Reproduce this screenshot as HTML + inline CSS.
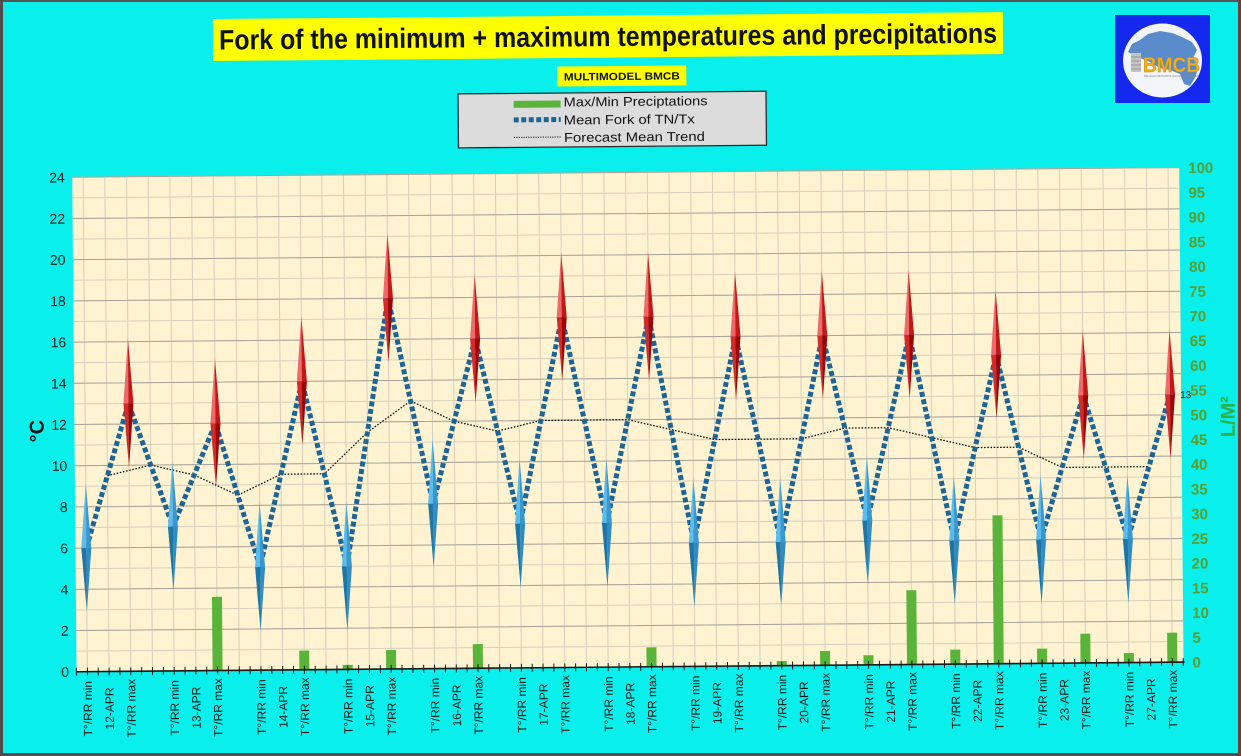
<!DOCTYPE html>
<html><head><meta charset="utf-8"><style>
html,body{margin:0;padding:0;background:#08efec;}
svg{display:block;}
</style></head><body>
<svg width="1241" height="756" viewBox="0 0 1241 756" xmlns="http://www.w3.org/2000/svg" font-family="Liberation Sans, Arial, sans-serif">
<defs>
<g id="rd">
<path d="M0 -65L-5 0L0 0Z" fill="#ee6a6a"/>
<path d="M0 -65L5 0L0 0Z" fill="#c41818"/>
<path d="M-5 0L0 64L0 0Z" fill="#d42a2a"/>
<path d="M5 0L0 64L0 0Z" fill="#9a0404"/>
</g>
<g id="bd">
<path d="M0 -65L-5 0L0 0Z" fill="#5cbcec"/>
<path d="M0 -65L5 0L0 0Z" fill="#3898d2"/>
<path d="M-5 0L0 64L0 0Z" fill="#1f76a4"/>
<path d="M5 0L0 64L0 0Z" fill="#2f8cc4"/>
</g>
</defs>
<rect width="1241" height="756" fill="#08efec"/>

<g transform="rotate(-0.5 620 378)">
<!-- Title -->
<rect x="216" y="15.5" width="790" height="42" fill="#ffff00"/>
<text x="611" y="46" text-anchor="middle" font-size="28" font-weight="bold" fill="#111" textLength="778" lengthAdjust="spacingAndGlyphs">Fork of the minimum + maximum temperatures and precipitations</text>
<rect x="560" y="66" width="129" height="20" fill="#ffff00"/>
<text x="624.5" y="80" text-anchor="middle" font-size="10.5" font-weight="bold" fill="#111" textLength="116" lengthAdjust="spacingAndGlyphs">MULTIMODEL BMCB</text>

<!-- Legend -->
<rect x="460.5" y="92.5" width="308" height="54" fill="#dcdcdc" stroke="#2b2b2b" stroke-width="1.3"/>
<rect x="516" y="100" width="47" height="7" fill="#5ab43a"/>
<line x1="516" y1="119" x2="563" y2="119" stroke="#1d6596" stroke-width="5" stroke-dasharray="5 2.5"/>
<line x1="516" y1="136.5" x2="563" y2="136.5" stroke="#111" stroke-width="1" stroke-dasharray="1.2 1.2"/>
<g font-size="13" fill="#111">
<text x="566" y="106" textLength="144" lengthAdjust="spacingAndGlyphs">Max/Min Preciptations</text>
<text x="566" y="124" textLength="131" lengthAdjust="spacingAndGlyphs">Mean Fork of TN/Tx</text>
<text x="566" y="141.5" textLength="141" lengthAdjust="spacingAndGlyphs">Forecast Mean Trend</text>
</g>

<!-- Plot area -->
<rect x="74" y="172.5" width="1107" height="494.5" fill="#fff3d2"/>
<line x1="84.35" y1="419.75" x2="1171" y2="419.75" stroke="#d8cfbc" stroke-width="494.5" stroke-dasharray="1 20.7"/>
<line x1="627.5" y1="172" x2="627.5" y2="667.6" stroke="#d8cfbc" stroke-width="1107" stroke-dasharray="1 19.604"/>
<line x1="627.5" y1="172" x2="627.5" y2="667.6" stroke="#a9a49b" stroke-width="1107" stroke-dasharray="1 40.208"/>

<!-- Precip bars -->
<g fill="#5ab43a">
<rect x="210.05" y="593.3" width="10" height="73.7"/>
<rect x="296.85" y="647.8" width="10" height="19.2"/>
<rect x="340.25" y="662.5" width="10" height="4.5"/>
<rect x="383.65" y="648" width="10" height="19"/>
<rect x="470.45" y="642.8" width="10" height="24.2"/>
<rect x="644.05" y="647.6" width="10" height="19.4"/>
<rect x="774.25" y="662.5" width="10" height="4.5"/>
<rect x="817.65" y="652.7" width="10" height="14.3"/>
<rect x="861.05" y="657.4" width="10" height="9.6"/>
<rect x="904.45" y="592.8" width="10" height="74.2"/>
<rect x="947.85" y="652.5" width="10" height="14.5"/>
<rect x="991.25" y="518.6" width="10" height="148.4"/>
<rect x="1034.65" y="652.3" width="10" height="14.7"/>
<rect x="1078.05" y="637.7" width="10" height="29.3"/>
<rect x="1121.45" y="657.5" width="10" height="9.5"/>
<rect x="1164.85" y="637.5" width="10" height="29.5"/>
</g>

<!-- Trend -->
<polyline fill="none" stroke="#111" stroke-width="1.3" stroke-dasharray="1.6 1.6" points="106.55,471.26 149.95,460.96 193.35,471.26 236.75,491.87 280.15,471.26 323.55,471.26 366.95,430.05 410.35,399.15 453.75,419.75 497.15,430.05 540.55,419.75 583.95,419.75 627.35,419.75 670.75,430.05 714.15,440.36 757.55,440.36 800.95,440.36 844.35,430.05 887.75,430.05 931.15,440.36 974.55,450.66 1017.95,450.66 1061.35,471.26 1104.75,471.26 1148.15,471.26"/>

<!-- Mean fork -->
<polyline fill="none" stroke="#1d6596" stroke-width="5" stroke-dasharray="5 2.6" stroke-linejoin="miter" points="84.85,543.38 128.25,399.15 171.65,522.77 215.05,419.75 258.45,563.98 301.85,378.54 345.25,563.98 388.65,296.13 432.05,502.17 475.45,337.34 518.85,522.77 562.25,316.73 605.65,522.77 649.05,316.73 692.45,543.38 735.85,337.34 779.25,543.38 822.65,337.34 866.05,522.77 909.45,337.34 952.85,543.38 996.25,357.94 1039.65,543.38 1083.05,399.15 1126.45,543.38 1169.85,399.15"/>

<!-- Diamonds min -->
<use href="#bd" x="84.85" y="543.38"/>
<use href="#bd" x="171.65" y="522.77"/>
<use href="#bd" x="258.45" y="563.98"/>
<use href="#bd" x="345.25" y="563.98"/>
<use href="#bd" x="432.05" y="502.17"/>
<use href="#bd" x="518.85" y="522.77"/>
<use href="#bd" x="605.65" y="522.77"/>
<use href="#bd" x="692.45" y="543.38"/>
<use href="#bd" x="779.25" y="543.38"/>
<use href="#bd" x="866.05" y="522.77"/>
<use href="#bd" x="952.85" y="543.38"/>
<use href="#bd" x="1039.65" y="543.38"/>
<use href="#bd" x="1126.45" y="543.38"/>
<!-- Diamonds max -->
<use href="#rd" x="128.25" y="399.15"/>
<use href="#rd" x="215.05" y="419.75"/>
<use href="#rd" x="301.85" y="378.54"/>
<use href="#rd" x="388.65" y="296.13"/>
<use href="#rd" x="475.45" y="337.34"/>
<use href="#rd" x="562.25" y="316.73"/>
<use href="#rd" x="649.05" y="316.73"/>
<use href="#rd" x="735.85" y="337.34"/>
<use href="#rd" x="822.65" y="337.34"/>
<use href="#rd" x="909.45" y="337.34"/>
<use href="#rd" x="996.25" y="357.94"/>
<use href="#rd" x="1083.05" y="399.15"/>
<use href="#rd" x="1169.85" y="399.15"/>

<text x="1180" y="403" font-size="10" fill="#111">13</text>

<!-- X axis -->
<line x1="73.5" y1="667" x2="1182" y2="667" stroke="#1a1a1a" stroke-width="1.6"/>
<line x1="73.5" y1="667" x2="1182" y2="667" stroke="#1a1a1a" stroke-width="8" stroke-dasharray="1 9.85"/>

<!-- Left axis labels -->
<g font-size="14" fill="#1a1a1a" text-anchor="end">
<text x="66.5" y="672">0</text>
<text x="66.5" y="630.79">2</text>
<text x="66.5" y="589.58">4</text>
<text x="66.5" y="548.38">6</text>
<text x="66.5" y="507.17">8</text>
<text x="66.5" y="465.96">10</text>
<text x="66.5" y="424.75">12</text>
<text x="66.5" y="383.54">14</text>
<text x="66.5" y="342.34">16</text>
<text x="66.5" y="301.13">18</text>
<text x="66.5" y="259.92">20</text>
<text x="66.5" y="218.71">22</text>
<text x="66.5" y="177.5">24</text>
</g>
<text transform="translate(36 426) rotate(-90)" text-anchor="middle" dy="0.36em" font-size="20" font-weight="bold" fill="#111">°C</text>

<!-- Right axis labels -->
<g font-size="15" font-weight="bold" fill="#5a9e2e">
<text x="1190" y="672.5">0</text>
<text x="1190" y="647.78">5</text>
<text x="1190" y="623.05">10</text>
<text x="1190" y="598.33">15</text>
<text x="1190" y="573.6">20</text>
<text x="1190" y="548.88">25</text>
<text x="1190" y="524.15">30</text>
<text x="1190" y="499.43">35</text>
<text x="1190" y="474.7">40</text>
<text x="1190" y="449.98">45</text>
<text x="1190" y="425.25">50</text>
<text x="1190" y="400.53">55</text>
<text x="1190" y="375.8">60</text>
<text x="1190" y="351.08">65</text>
<text x="1190" y="326.35">70</text>
<text x="1190" y="301.63">75</text>
<text x="1190" y="276.9">80</text>
<text x="1190" y="252.18">85</text>
<text x="1190" y="227.45">90</text>
<text x="1190" y="202.73">95</text>
<text x="1190" y="178">100</text>
</g>
<text transform="translate(1227 422) rotate(-90)" text-anchor="middle" dy="0.36em" font-size="20" font-weight="bold" fill="#2cb04a">L/M²</text>

<!-- Category labels -->
<g font-size="12" fill="#1a1a1a" text-anchor="middle">
<text transform="translate(84.85 704) rotate(-90)" dy="0.36em">T°/RR min</text>
<text transform="translate(106.55 704) rotate(-90)" dy="0.36em">12-APR</text>
<text transform="translate(128.25 704) rotate(-90)" dy="0.36em">T°/RR max</text>
<text transform="translate(171.65 704) rotate(-90)" dy="0.36em">T°/RR min</text>
<text transform="translate(193.35 704) rotate(-90)" dy="0.36em">13-APR</text>
<text transform="translate(215.05 704) rotate(-90)" dy="0.36em">T°/RR max</text>
<text transform="translate(258.45 704) rotate(-90)" dy="0.36em">T°/RR min</text>
<text transform="translate(280.15 704) rotate(-90)" dy="0.36em">14-APR</text>
<text transform="translate(301.85 704) rotate(-90)" dy="0.36em">T°/RR max</text>
<text transform="translate(345.25 704) rotate(-90)" dy="0.36em">T°/RR min</text>
<text transform="translate(366.95 704) rotate(-90)" dy="0.36em">15-APR</text>
<text transform="translate(388.65 704) rotate(-90)" dy="0.36em">T°/RR max</text>
<text transform="translate(432.05 704) rotate(-90)" dy="0.36em">T°/RR min</text>
<text transform="translate(453.75 704) rotate(-90)" dy="0.36em">16-APR</text>
<text transform="translate(475.45 704) rotate(-90)" dy="0.36em">T°/RR max</text>
<text transform="translate(518.85 704) rotate(-90)" dy="0.36em">T°/RR min</text>
<text transform="translate(540.55 704) rotate(-90)" dy="0.36em">17-APR</text>
<text transform="translate(562.25 704) rotate(-90)" dy="0.36em">T°/RR max</text>
<text transform="translate(605.65 704) rotate(-90)" dy="0.36em">T°/RR min</text>
<text transform="translate(627.35 704) rotate(-90)" dy="0.36em">18-APR</text>
<text transform="translate(649.05 704) rotate(-90)" dy="0.36em">T°/RR max</text>
<text transform="translate(692.45 704) rotate(-90)" dy="0.36em">T°/RR min</text>
<text transform="translate(714.15 704) rotate(-90)" dy="0.36em">19-APR</text>
<text transform="translate(735.85 704) rotate(-90)" dy="0.36em">T°/RR max</text>
<text transform="translate(779.25 704) rotate(-90)" dy="0.36em">T°/RR min</text>
<text transform="translate(800.95 704) rotate(-90)" dy="0.36em">20-APR</text>
<text transform="translate(822.65 704) rotate(-90)" dy="0.36em">T°/RR max</text>
<text transform="translate(866.05 704) rotate(-90)" dy="0.36em">T°/RR min</text>
<text transform="translate(887.75 704) rotate(-90)" dy="0.36em">21-APR</text>
<text transform="translate(909.45 704) rotate(-90)" dy="0.36em">T°/RR max</text>
<text transform="translate(952.85 704) rotate(-90)" dy="0.36em">T°/RR min</text>
<text transform="translate(974.55 704) rotate(-90)" dy="0.36em">22-APR</text>
<text transform="translate(996.25 704) rotate(-90)" dy="0.36em">T°/RR max</text>
<text transform="translate(1039.65 704) rotate(-90)" dy="0.36em">T°/RR min</text>
<text transform="translate(1061.35 704) rotate(-90)" dy="0.36em">23-APR</text>
<text transform="translate(1083.05 704) rotate(-90)" dy="0.36em">T°/RR max</text>
<text transform="translate(1126.45 704) rotate(-90)" dy="0.36em">T°/RR min</text>
<text transform="translate(1148.15 704) rotate(-90)" dy="0.36em">27-APR</text>
<text transform="translate(1169.85 704) rotate(-90)" dy="0.36em">T°/RR max</text>
</g>
</g>

<!-- Logo -->
<rect x="1115" y="15" width="95" height="88" fill="#1428f0"/>
<ellipse cx="1162.5" cy="60.5" rx="39.5" ry="37" fill="#f2f6fa"/>
<polygon points="1128,52 1132,44 1140,40 1148,34 1160,31 1172,33 1182,37 1192,42 1197,50 1193,58 1198,66 1196,76 1190,86 1184,84 1180,74 1170,70 1160,68 1150,62 1140,58" fill="#5a8ccc"/>
<rect x="1131" y="53" width="10" height="19" fill="#c4c4c4"/>
<g stroke="#8a8a8a" stroke-width="0.8"><line x1="1131" y1="57" x2="1141" y2="57"/><line x1="1131" y1="61" x2="1141" y2="61"/><line x1="1131" y1="65" x2="1141" y2="65"/><line x1="1131" y1="69" x2="1141" y2="69"/></g>
<text x="1143" y="72" font-size="21" font-weight="bold" fill="#eeb022" stroke="#c88a10" stroke-width="0.5" textLength="57" lengthAdjust="spacingAndGlyphs">BMCB</text>
<text x="1144" y="77" font-size="3" fill="#888" textLength="55" lengthAdjust="spacingAndGlyphs">BELGIAN METEOROLOGICAL CLUB BMCB</text>

<!-- Frame -->
<rect x="0" y="0" width="1241" height="2" fill="#555"/>
<rect x="0" y="0" width="3" height="756" fill="#4d4d4d"/>
<rect x="0" y="753" width="1241" height="3" fill="#4d4d4d"/>
<rect x="1238" y="0" width="3" height="756" fill="#7d3a2c"/>
</svg>
</body></html>
